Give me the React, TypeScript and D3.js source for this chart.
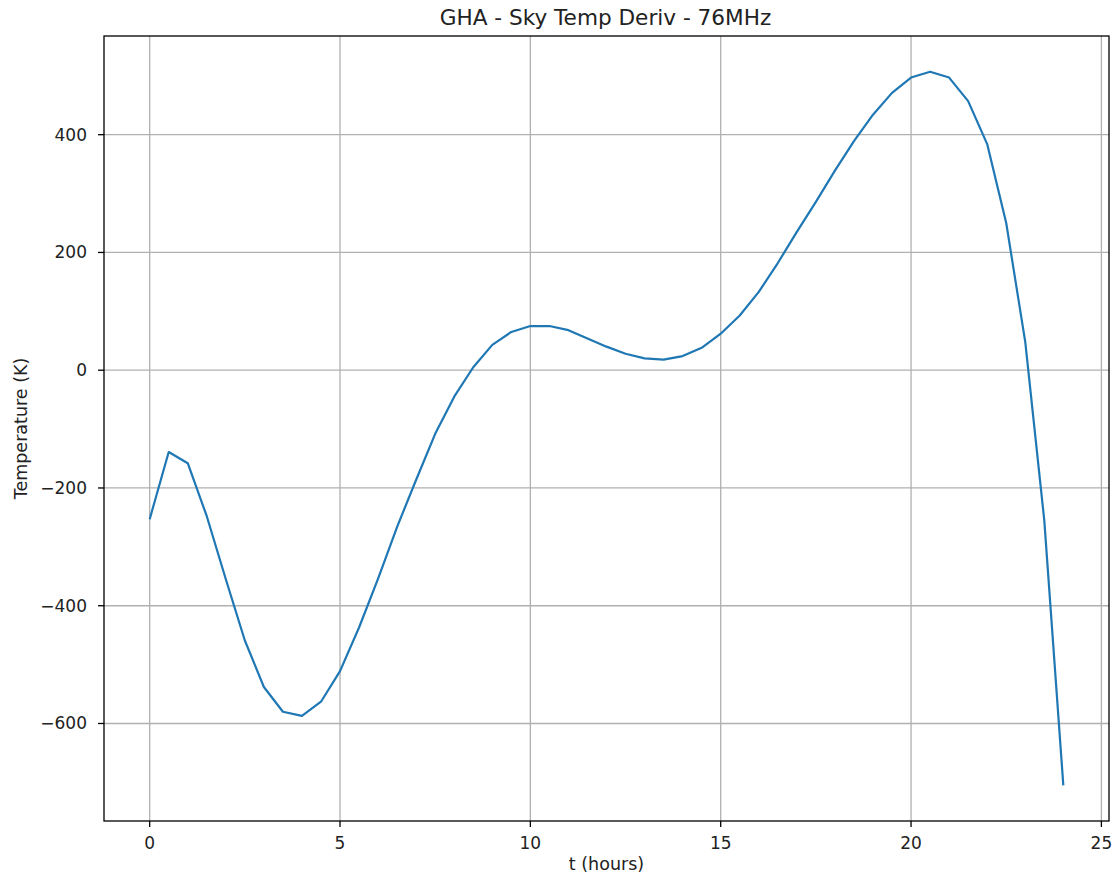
import React from "react";
import * as d3 from "d3";

// Time of day (hours), sampled every half hour
const hours: number[] = [
  0, 0.5, 1, 1.5, 2, 2.5, 3, 3.5, 4, 4.5, 5, 5.5, 6, 6.5, 7, 7.5, 8, 8.5, 9, 9.5,
  10, 10.5, 11, 11.5, 12, 12.5, 13, 13.5, 14, 14.5, 15, 15.5, 16, 16.5, 17, 17.5,
  18, 18.5, 19, 19.5, 20, 20.5, 21, 21.5, 22, 22.5, 23, 23.5, 24,
];

// Derivative of sky temperature at 76 MHz (K)
const skyTempDeriv: number[] = [
  -253, -139, -158, -248, -355, -459, -538, -580, -587, -563, -511, -437, -354,
  -266, -186, -108, -45, 5, 43, 65, 75, 75, 68, 54, 40, 28, 20, 18, 24, 38, 62,
  93, 133, 182, 235, 286, 339, 389, 434, 471, 497, 507, 497, 457, 384, 250, 48,
  -255, -705,
];

const xTicks: number[] = [0, 5, 10, 15, 20, 25];
const yTicks: number[] = [-600, -400, -200, 0, 200, 400];

const W = 1115;
const H = 880;
const plot = { left: 104, right: 1109, top: 36, bottom: 821 };
const FONT = "'DejaVu Sans', sans-serif";

function fmt(v: number): string {
  return v < 0 ? "\u2212" + Math.abs(v) : String(v);
}

export default function App() {
  const xExt = d3.extent(hours) as [number, number];
  const yExt = d3.extent(skyTempDeriv) as [number, number];
  const xPad = (xExt[1] - xExt[0]) * 0.05;
  const yPad = (yExt[1] - yExt[0]) * 0.05;

  const x = d3
    .scaleLinear()
    .domain([xExt[0] - xPad, xExt[1] + xPad])
    .range([plot.left, plot.right]);
  const y = d3
    .scaleLinear()
    .domain([yExt[0] - yPad, yExt[1] + yPad])
    .range([plot.bottom, plot.top]);

  const points = hours.map((h, i) => [h, skyTempDeriv[i]] as [number, number]);
  const path = d3
    .line<[number, number]>()
    .x((d) => x(d[0]))
    .y((d) => y(d[1]))(points) as string;

  const cx = (plot.left + plot.right) / 2;
  const cy = (plot.top + plot.bottom) / 2;

  return (
    <div style={{ position: "absolute", left: 0, top: 0 }}>
      <svg width={W} height={H} style={{ display: "block", background: "#fff" }}>
        <rect x={0} y={0} width={W} height={H} fill="#fff" />

        {/* grid */}
        <g stroke="#b0b0b0" strokeWidth={1.3}>
          {xTicks.map((t) => (
            <line key={"gx" + t} x1={x(t)} x2={x(t)} y1={plot.top} y2={plot.bottom} />
          ))}
          {yTicks.map((t) => (
            <line key={"gy" + t} x1={plot.left} x2={plot.right} y1={y(t)} y2={y(t)} />
          ))}
        </g>

        {/* data line */}
        <path
          d={path}
          fill="none"
          stroke="#1f77b4"
          strokeWidth={2.2}
          strokeLinejoin="round"
          strokeLinecap="butt"
        />

        {/* spines */}
        <rect
          x={plot.left}
          y={plot.top}
          width={plot.right - plot.left}
          height={plot.bottom - plot.top}
          fill="none"
          stroke="#000"
          strokeWidth={1.3}
        />

        {/* x ticks */}
        <g fontFamily={FONT} fontSize={17} fill="#222">
          {xTicks.map((t) => (
            <g key={"xt" + t}>
              <line x1={x(t)} x2={x(t)} y1={plot.bottom} y2={plot.bottom + 6} stroke="#000" strokeWidth={1.3} />
              <text x={x(t)} y={849} textAnchor="middle">
                {fmt(t)}
              </text>
            </g>
          ))}
        </g>

        {/* y ticks */}
        <g fontFamily={FONT} fontSize={17} fill="#222">
          {yTicks.map((t) => (
            <g key={"yt" + t}>
              <line x1={plot.left - 6} x2={plot.left} y1={y(t)} y2={y(t)} stroke="#000" strokeWidth={1.3} />
              <text x={plot.left - 17} y={y(t) + 6} textAnchor="end">
                {fmt(t)}
              </text>
            </g>
          ))}
        </g>

        {/* labels */}
        <text x={cx} y={870} textAnchor="middle" fontFamily={FONT} fontSize={17.5} fill="#222">
          t (hours)
        </text>
        <text
          transform={`translate(27, ${cy}) rotate(-90)`}
          textAnchor="middle"
          fontFamily={FONT}
          fontSize={17.5}
          fill="#222"
        >
          Temperature (K)
        </text>
        <text x={cx - 1} y={25} textAnchor="middle" fontFamily={FONT} fontSize={21.6} fill="#222">
          GHA - Sky Temp Deriv - 76MHz
        </text>
      </svg>
    </div>
  );
}
